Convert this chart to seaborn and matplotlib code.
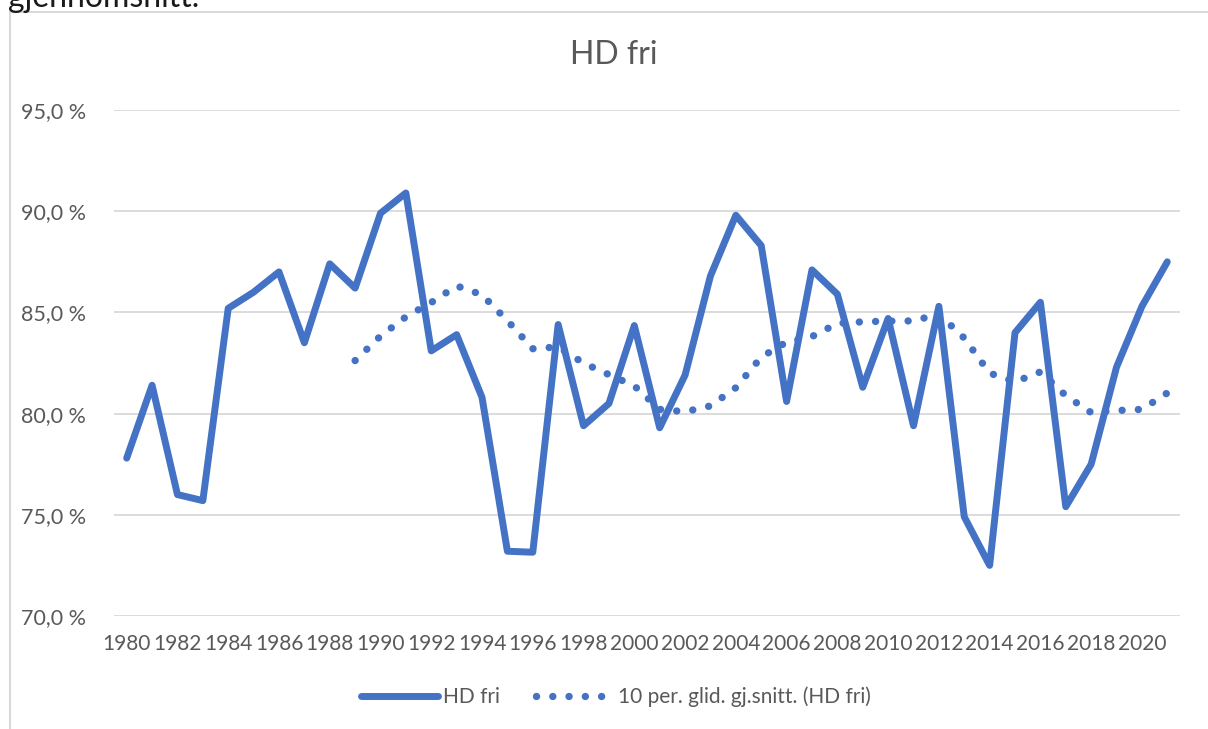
import matplotlib
matplotlib.use("Agg")
import matplotlib.pyplot as plt
from matplotlib.lines import Line2D
from matplotlib.ticker import FuncFormatter
import pandas as pd
import seaborn as sns

# data
years = list(range(1980, 2022))
hd_fri = [
    77.8, 81.4, 76.0, 75.7, 85.2, 86.0, 87.0, 83.5, 87.4, 86.2,
    89.9, 90.9, 83.1, 83.9, 80.8, 73.2, 73.15, 84.4, 79.4, 80.5,
    84.35, 79.3, 81.9, 86.8, 89.8, 88.3, 80.6, 87.1, 85.9, 81.3,
    84.7, 79.4, 85.3, 74.9, 72.5, 84.0, 85.5, 75.4, 77.5, 82.3,
    85.3, 87.5,
]
year_ticks = list(range(1980, 2021, 2))
y_ticks = [70, 75, 80, 85, 90, 95]

title = "HD fri"
label_main = "HD fri"
label_ma = "10 per. glid. gj.snitt. (HD fri)"

df = pd.DataFrame({"year": years, "hd_fri": hd_fri})
# 10-period moving average, as the chart's trendline
df["ma"] = df["hd_fri"].rolling(10).mean()
df_ma = df.dropna()

blue = "#4472C4"
grey = "#595959"
grid = "#D9D9D9"

sns.set_theme(style="white")
plt.rcParams["font.family"] = ["Lato", "DejaVu Sans"]

W, H = 1208, 729
fig = plt.figure(figsize=(W / 100, H / 100), dpi=100)
ax = fig.add_axes([114 / W, 1 - 616 / H, (1180 - 114) / W, (616 - 110) / H])

sns.lineplot(data=df, x="year", y="hd_fri", ax=ax, color=blue, lw=5,
             solid_joinstyle="round", solid_capstyle="round", label=label_main)
sns.lineplot(data=df_ma, x="year", y="ma", ax=ax, color=blue, lw=5.3,
             linestyle=(0, (0.01, 2.2)), dash_capstyle="round", label=label_ma)

ax.set_xlim(1979.5, 2021.5)
ax.set_ylim(70, 95)
ax.set_xticks(year_ticks)
ax.set_yticks(y_ticks)
ax.yaxis.set_major_formatter(FuncFormatter(lambda v, p: f"{v:.1f}".replace(".", ",") + " %"))
ax.tick_params(axis="x", length=0, pad=13, labelsize=15, labelcolor=grey)
ax.tick_params(axis="y", length=0, pad=20, labelsize=15.5, labelcolor=grey)
ax.set_xlabel("")
ax.set_ylabel("")
for s in ax.spines.values():
    s.set_visible(False)
ax.grid(axis="y", color=grid, lw=1.3)
ax.set_axisbelow(True)

fig.text(614 / W, 1 - 55 / H, title, ha="center", va="center", fontsize=23, color=grey)

ax.legend(loc="center", bbox_to_anchor=(616 / W, 1 - 697 / H), bbox_transform=fig.transFigure,
          ncol=2, frameon=False, fontsize=15, labelcolor=grey, handlelength=3.7,
          handletextpad=0.25, columnspacing=1.7)

# chart border and the cut off text above it
fig.add_artist(Line2D([10 / W, 10 / W], [0, 1 - 12 / H], transform=fig.transFigure, color=grid, lw=1.5))
fig.add_artist(Line2D([10 / W, 1], [1 - 12 / H, 1 - 12 / H], transform=fig.transFigure, color=grid, lw=1.5))
fig.text(8 / W, 1 - 7 / H, "gjennomsnitt.", ha="left", va="baseline", fontsize=23, color="#1a1a1a")

fig.savefig("out.png", dpi=100)
